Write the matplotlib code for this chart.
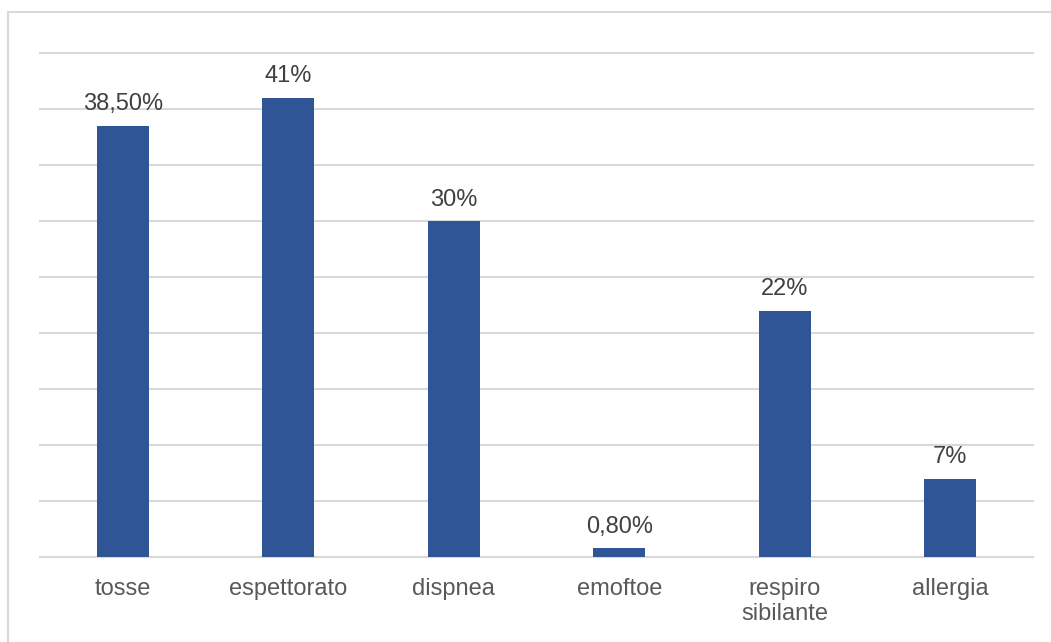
import matplotlib.pyplot as plt
from matplotlib.patches import Rectangle

plt.rcParams['font.family'] = ['Liberation Sans', 'DejaVu Sans']

categorie = ['tosse', 'espettorato', 'dispnea', 'emoftoe', 'respiro\nsibilante', 'allergia']
valori = [38.5, 41, 30, 0.8, 22, 7]
etichette = ['38,50%', '41%', '30%', '0,80%', '22%', '7%']

W, H = 1051, 642
fig = plt.figure(figsize=(W / 100, H / 100), dpi=100)
ax = fig.add_axes([40 / W, (H - 557) / H, (1033 - 40) / W, (557 - 53) / H])

# cornice grigia del grafico
fig.patches.append(Rectangle((8 / W, -0.1), 1.2, (H - 12) / H + 0.1,
                             transform=fig.transFigure, fill=False,
                             edgecolor='#d9d9d9', linewidth=1.5))

x = range(len(categorie))
barre = ax.bar(x, valori, width=0.315, color='#2f5597', zorder=3)
for b, lab in zip(barre, etichette):
    ax.annotate(lab, (b.get_x() + b.get_width() / 2, b.get_height()),
                xytext=(0, 7.5), textcoords='offset points',
                ha='center', va='bottom', fontsize=17, color='#404040')

ax.set_xlim(-0.5, len(categorie) - 0.5)
ax.set_ylim(0, 45)
ax.set_yticks(range(0, 46, 5))
ax.yaxis.grid(True, color='#d9d9d9', linewidth=1.5, zorder=0)
for g in ax.get_ygridlines():
    g.set_clip_on(False)
ax.tick_params(axis='y', left=False, labelleft=False)
ax.set_xticks(list(x))
ax.set_xticklabels(categorie, fontsize=17, color='#595959', linespacing=1.2)
ax.tick_params(axis='x', length=0, pad=15)
for s in ['top', 'right', 'left']:
    ax.spines[s].set_visible(False)
ax.spines['bottom'].set_color('#d9d9d9')
ax.spines['bottom'].set_linewidth(1.5)

fig.savefig('out.png', dpi=100)
